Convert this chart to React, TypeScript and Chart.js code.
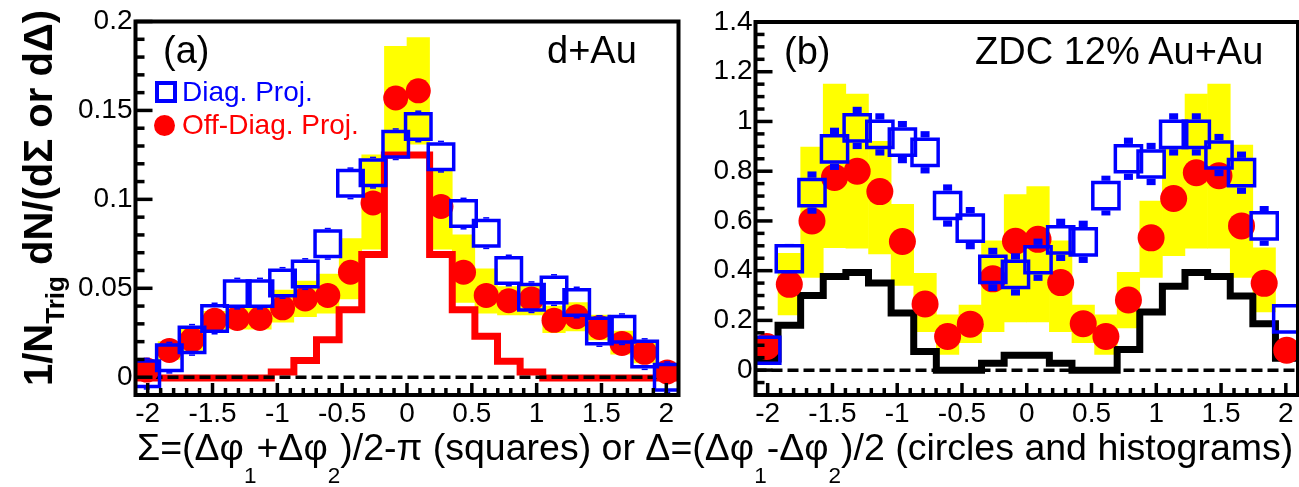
import React, { useEffect, useRef } from "react";
import { Chart, registerables } from "chart.js";

Chart.register(...registerables);

const FONT = '"Liberation Sans", Arial, Helvetica, sans-serif';

// bin centres (10 degree bins from -2pi/3 to 2pi/3)
const BIN_CENTERS = [-2.007, -1.833, -1.658, -1.484, -1.309, -1.134, -0.96, -0.785, -0.611, -0.436, -0.262, -0.087, 0.087, 0.262, 0.436, 0.611, 0.785, 0.96, 1.134, 1.309, 1.484, 1.658, 1.833, 2.007];
const X_MIN = -2.094;
const X_MAX = 2.094;
const X_TICKS = [-2, -1.5, -1, -0.5, 0, 0.5, 1, 1.5, 2];

// ---- panel (a) d+Au ----
const A_Y_TICKS = [0, 0.05, 0.1, 0.15, 0.2];
const A_DIAG = [0.002, 0.011, 0.021, 0.033, 0.047, 0.047, 0.053, 0.058, 0.075, 0.109, 0.115, 0.131, 0.141, 0.124, 0.092, 0.081, 0.06, 0.045, 0.049, 0.042, 0.026, 0.027, 0.013, 0.0];
const A_DIAG_ERR = [0.009, 0.009, 0.009, 0.009, 0.009, 0.009, 0.009, 0.009, 0.009, 0.009, 0.009, 0.009, 0.009, 0.009, 0.009, 0.009, 0.009, 0.009, 0.009, 0.009, 0.009, 0.009, 0.009, 0.009];
const A_OFFDIAG = [0.004, 0.015, 0.021, 0.032, 0.033, 0.033, 0.039, 0.044, 0.046, 0.059, 0.098, 0.157, 0.161, 0.096, 0.059, 0.046, 0.043, 0.044, 0.032, 0.034, 0.028, 0.019, 0.014, 0.003];
const A_HIST = [-0.0005, -0.0005, -0.0005, -0.0005, -0.0005, -0.0005, 0.003, 0.0094, 0.021, 0.038, 0.069, 0.125, 0.125, 0.069, 0.038, 0.023, 0.009, 0.003, -0.0005, -0.0005, -0.0005, -0.0005, -0.0005, -0.0005];
const A_SYS_LO = [0.0, 0.01, 0.015, 0.027, 0.027, 0.027, 0.031, 0.034, 0.036, 0.044, 0.072, 0.127, 0.131, 0.072, 0.042, 0.036, 0.035, 0.035, 0.025, 0.026, 0.021, 0.013, 0.008, 0.0];
const A_SYS_HI = [0.008, 0.02, 0.027, 0.037, 0.039, 0.04, 0.049, 0.054, 0.058, 0.078, 0.125, 0.186, 0.191, 0.116, 0.08, 0.061, 0.051, 0.052, 0.04, 0.042, 0.035, 0.026, 0.02, 0.008];

// ---- panel (b) ZDC 12% Au+Au ----
const B_Y_TICKS = [0, 0.2, 0.4, 0.6, 0.8, 1, 1.2, 1.4];
const B_DIAG = [0.08, 0.448, 0.714, 0.89, 0.974, 0.948, 0.917, 0.876, 0.662, 0.571, 0.405, 0.385, 0.444, 0.524, 0.516, 0.702, 0.85, 0.829, 0.948, 0.948, 0.865, 0.794, 0.58, 0.206];
const B_DIAG_ERR = [0.05, 0.06, 0.085, 0.085, 0.085, 0.085, 0.085, 0.085, 0.085, 0.085, 0.087, 0.085, 0.085, 0.085, 0.085, 0.08, 0.085, 0.085, 0.085, 0.085, 0.085, 0.085, 0.08, 0.05];
const B_OFFDIAG = [0.095, 0.345, 0.6, 0.775, 0.8, 0.718, 0.517, 0.266, 0.135, 0.185, 0.367, 0.518, 0.526, 0.352, 0.187, 0.135, 0.282, 0.532, 0.69, 0.794, 0.782, 0.58, 0.349, 0.08];
const B_HIST = [0.045, 0.18, 0.3, 0.377, 0.393, 0.35, 0.23, 0.075, 0.0, 0.0, 0.028, 0.06, 0.06, 0.028, 0.0, 0.0, 0.083, 0.234, 0.337, 0.393, 0.377, 0.298, 0.187, 0.048];
const B_SYS_LO = [0.06, 0.222, 0.373, 0.492, 0.49, 0.467, 0.341, 0.155, 0.063, 0.11, 0.155, 0.194, 0.194, 0.155, 0.11, 0.063, 0.17, 0.373, 0.46, 0.49, 0.49, 0.373, 0.234, 0.04];
const B_SYS_HI = [0.13, 0.47, 0.897, 1.15, 1.11, 0.92, 0.667, 0.389, 0.222, 0.262, 0.52, 0.706, 0.738, 0.52, 0.262, 0.222, 0.393, 0.68, 0.9, 1.11, 1.15, 0.905, 0.492, 0.12];

type PanelSpec = {
  diag: number[];
  diagErr: number[];
  offdiag: number[];
  hist: number[];
  sysLo: number[];
  sysHi: number[];
  yMin: number;
  yMax: number;
  yTicks: number[];
  yMinor: number;
  yMajor: number;
  yAxisWidth: number;
  canvasWidth: number;
  histColor: string;
  sqRadius: number;
  circRadius: number;
  stubW: number;
};

function fmt(v: number) {
  return String(Math.round(v * 1000) / 1000);
}

function makeDecor(spec: PanelSpec) {
  return {
    id: "decor",
    afterDatasetsDraw(chart: any) {
      const ctx = chart.ctx;
      const y = chart.scales.y;
      chart.data.datasets.forEach((ds: any, i: number) => {
        if (!ds.errs) return;
        const meta = chart.getDatasetMeta(i);
        const half = ds.pointRadius * Math.SQRT1_2 + ds.pointBorderWidth / 2;
        ctx.save();
        ctx.fillStyle = ds.pointBorderColor;
        meta.data.forEach((pt: any, j: number) => {
          const v = ds.data[j].y;
          const e = ds.errs[j];
          const top = y.getPixelForValue(v + e);
          const bot = y.getPixelForValue(v - e);
          if (pt.y - half > top) ctx.fillRect(pt.x - spec.stubW / 2, top, spec.stubW, pt.y - half - top);
          if (bot > pt.y + half) ctx.fillRect(pt.x - spec.stubW / 2, pt.y + half, spec.stubW, bot - pt.y - half);
        });
        ctx.restore();
      });
    },
    afterDraw(chart: any) {
      const ctx = chart.ctx;
      const a = chart.chartArea;
      const x = chart.scales.x;
      const y = chart.scales.y;
      ctx.save();
      ctx.fillStyle = "#000";
      const k0 = Math.ceil(spec.yMin / spec.yMinor - 1e-6);
      for (let k = k0; k * spec.yMinor <= spec.yMax + 1e-9; k++) {
        const v = k * spec.yMinor;
        const r = v / spec.yMajor;
        const major = Math.abs(r - Math.round(r)) < 1e-6;
        const len = major ? 17 : 9;
        const py = y.getPixelForValue(v);
        ctx.fillRect(a.left, py - 1.75, len, 3.5);
      }
      for (let k = -20; k <= 20; k++) {
        const v = k * 0.1;
        if (v < X_MIN || v > X_MAX) continue;
        const major = k % 5 === 0;
        const len = major ? 12 : 7;
        const px = x.getPixelForValue(v);
        ctx.fillRect(px - 1.75, a.bottom - len, 3.5, len);
      }
      ctx.strokeStyle = "#000";
      ctx.lineWidth = 4;
      ctx.strokeRect(a.left, a.top, a.right - a.left, a.bottom - a.top);
      ctx.restore();
    },
  };
}

function buildConfig(spec: PanelSpec): any {
  const pts = (arr: number[]) => BIN_CENTERS.map((c, i) => ({ x: c, y: arr[i] }));
  const histPts = [{ x: X_MIN, y: spec.hist[0] }, ...pts(spec.hist), { x: X_MAX, y: spec.hist[spec.hist.length - 1] }];
  const bandPts = BIN_CENTERS.map((c, i) => ({ x: c, y: [spec.sysLo[i], spec.sysHi[i]] }));
  return {
    type: "scatter",
    data: {
      datasets: [
        {
          type: "scatter",
          data: pts(spec.diag),
          errs: spec.diagErr,
          pointStyle: "rect",
          pointRadius: spec.sqRadius,
          pointBorderWidth: 3.5,
          pointBorderColor: "#0000ff",
          pointBackgroundColor: "rgba(0,0,0,0)",
          showLine: false,
        },
        {
          type: "scatter",
          data: pts(spec.offdiag),
          pointStyle: "circle",
          pointRadius: spec.circRadius,
          pointBorderWidth: 0,
          pointBorderColor: "#ff0000",
          pointBackgroundColor: "#ff0000",
          showLine: false,
        },
        {
          type: "line",
          data: [{ x: X_MIN, y: 0 }, { x: X_MAX, y: 0 }],
          borderColor: "#000",
          borderWidth: 3.5,
          borderDash: [11, 5],
          pointRadius: 0,
          fill: false,
        },
        {
          type: "line",
          data: histPts,
          stepped: "middle",
          borderColor: spec.histColor,
          borderWidth: 7,
          borderJoinStyle: "miter",
          borderCapStyle: "butt",
          pointRadius: 0,
          fill: false,
        },
        {
          type: "bar",
          data: bandPts,
          backgroundColor: "#ffff00",
          borderWidth: 0,
          barPercentage: 1,
          categoryPercentage: 1,
          grouped: false,
        },
      ],
    },
    options: {
      animation: false,
      responsive: false,
      events: [],
      layout: { padding: { left: 0, right: 18, top: 17, bottom: 0 } },
      plugins: { legend: { display: false }, tooltip: { enabled: false } },
      scales: {
        x: {
          type: "linear",
          offset: false,
          min: X_MIN,
          max: X_MAX,
          grid: { display: false, drawTicks: false, offset: false },
          border: { display: false },
          afterBuildTicks: (s: any) => {
            s.ticks = X_TICKS.map((v) => ({ value: v }));
          },
          afterFit: (s: any) => {
            s.height = 92;
          },
          ticks: {
            autoSkip: false,
            maxRotation: 0,
            padding: 2,
            color: "#000",
            font: { family: FONT, size: 28 },
            callback: (v: number) => fmt(v),
          },
        },
        y: {
          type: "linear",
          min: spec.yMin,
          max: spec.yMax,
          grid: { display: false, drawTicks: false },
          border: { display: false },
          afterBuildTicks: (s: any) => {
            s.ticks = spec.yTicks.map((v) => ({ value: v }));
          },
          afterFit: (s: any) => {
            s.width = spec.yAxisWidth;
          },
          ticks: {
            autoSkip: false,
            padding: 3,
            color: "#000",
            font: { family: FONT, size: 28 },
            callback: (v: number) => fmt(v),
          },
        },
      },
    },
    plugins: [makeDecor(spec)],
  };
}

const SPEC_A: PanelSpec = {
  diag: A_DIAG,
  diagErr: A_DIAG_ERR,
  offdiag: A_OFFDIAG,
  hist: A_HIST,
  sysLo: A_SYS_LO,
  sysHi: A_SYS_HI,
  yMin: -0.01,
  yMax: 0.2,
  yTicks: A_Y_TICKS,
  yMinor: 0.01,
  yMajor: 0.05,
  yAxisWidth: 135.5,
  canvasWidth: 700,
  histColor: "#ff0000",
  sqRadius: 18,
  circRadius: 12.5,
  stubW: 6,
};

const SPEC_B: PanelSpec = {
  diag: B_DIAG,
  diagErr: B_DIAG_ERR,
  offdiag: B_OFFDIAG,
  hist: B_HIST,
  sysLo: B_SYS_LO,
  sysHi: B_SYS_HI,
  yMin: -0.1,
  yMax: 1.4,
  yTicks: B_Y_TICKS,
  yMinor: 0.05,
  yMajor: 0.2,
  yAxisWidth: 55.5,
  canvasWidth: 620,
  histColor: "#000000",
  sqRadius: 18.5,
  circRadius: 13.5,
  stubW: 9,
};

function Panel({ left, spec }: { left: number; spec: PanelSpec }) {
  const ref = useRef<HTMLCanvasElement>(null);
  useEffect(() => {
    const chart = new Chart(ref.current as HTMLCanvasElement, buildConfig(spec));
    return () => chart.destroy();
  }, []);
  return (
    <canvas
      ref={ref}
      width={spec.canvasWidth}
      height={487}
      style={{ position: "absolute", left, top: 0, width: spec.canvasWidth, height: 487 }}
    />
  );
}

function Label({ x, y, size, color = "#000", bold = false, children }: any) {
  return (
    <div
      style={{
        position: "absolute",
        left: x,
        top: y - 0.488 * size,
        fontSize: size,
        lineHeight: 1,
        color,
        fontWeight: bold ? "bold" : "normal",
        whiteSpace: "nowrap",
        fontFamily: FONT,
      }}
    >
      {children}
    </div>
  );
}

const subX: React.CSSProperties = { fontSize: "0.6em", verticalAlign: "-1em", lineHeight: 0 };
const subY: React.CSSProperties = { fontSize: "0.65em", verticalAlign: "-0.45em", lineHeight: 0 };

export default function App() {
  return (
    <div
      style={{
        position: "fixed",
        left: 0,
        top: 0,
        width: 1299,
        height: 487,
        overflow: "hidden",
        background: "#fff",
        fontFamily: FONT,
      }}
    >
      <Panel left={0} spec={SPEC_A} />
      <Panel left={700} spec={SPEC_B} />

      {/* y-axis title */}
      <div
        style={{
          position: "absolute",
          left: 38,
          top: 198,
          transform: "translate(-50%, -50%) rotate(-90deg)",
          fontSize: 40,
          fontWeight: "bold",
          lineHeight: 1,
          whiteSpace: "nowrap",
          fontFamily: FONT,
        }}
      >
        1/N<span style={subY}>Trig</span> dN/(dΣ or dΔ)
      </div>

      {/* x-axis title */}
      <Label x={137} y={447} size={37.5}>
        Σ=(Δφ<span style={subX}>1</span>+Δφ<span style={subX}>2</span>)/2-π (squares) or Δ=(Δφ<span style={subX}>1</span>-Δφ<span style={subX}>2</span>)/2 (circles and histograms)
      </Label>

      {/* panel labels */}
      <Label x={163} y={50} size={38}>(a)</Label>
      <Label x={547} y={50} size={38}>d+Au</Label>
      <Label x={784} y={51} size={38}>(b)</Label>
      <Label x={975} y={51} size={38}>ZDC 12% Au+Au</Label>

      {/* legend */}
      <div
        style={{
          position: "absolute",
          left: 155,
          top: 81,
          width: 22,
          height: 22,
          boxSizing: "border-box",
          border: "4px solid #0000ff",
        }}
      />
      <Label x={182} y={92} size={28} color="#0000ff">Diag. Proj.</Label>
      <div
        style={{
          position: "absolute",
          left: 154,
          top: 114.5,
          width: 21,
          height: 21,
          borderRadius: "50%",
          background: "#ff0000",
        }}
      />
      <Label x={182} y={125} size={28} color="#ff0000">Off-Diag. Proj.</Label>
    </div>
  );
}
